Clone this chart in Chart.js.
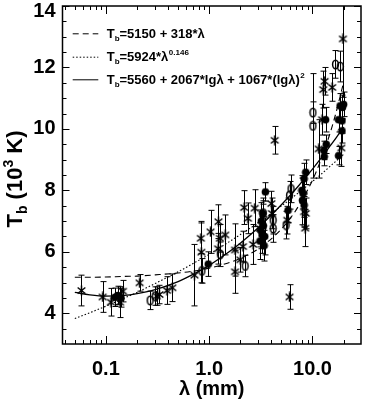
<!DOCTYPE html>
<html><head><meta charset="utf-8">
<script src="https://cdn.jsdelivr.net/npm/chart.js@4"></script>
<style>html,body{margin:0;padding:0;background:#fff;}#wrap{width:367px;height:400px;position:relative;}</style>
</head><body><div id="wrap"><canvas id="c"></canvas></div>
<script>
// ---- data ----
const xTickValues = [0.1, 1, 10];
const xTickLabels = ['0.1', '1.0', '10.0'];
const xMinorTicks = [0.04,0.05,0.06,0.07,0.08,0.09,0.2,0.3,0.4,0.5,0.6,0.7,0.8,0.9,2,3,4,5,6,7,8,9,20];
const yTickValues = [4, 6, 8, 10, 12, 14];
const yTickLabels = ['4', '6', '8', '10', '12', '14'];
const yMinorTicks = [3.5,4.5,5,5.5,6.5,7,7.5,8.5,9,9.5,10.5,11,11.5,12.5,13,13.5];

const starLambda = [0.058,0.093,0.112,0.137,0.146,0.212,0.31,0.33,0.39,0.44,0.72,0.83,0.84,1.03,1.23,1.22,1.27,1.43,1.78,1.78,2.0,2.12,2.18,2.37,2.76,2.66,3.1,4.0,4.05,4.31,5.7,6.0,8.3,8.5,8.6,11.5,12.4,12.7,13.1,15.5,19.0,19.7];
const starT      = [4.74,4.53,4.36,4.36,4.72,4.99,4.56,4.61,4.74,4.83,5.24,6.44,5.99,6.65,6.98,6.10,6.44,6.55,6.06,5.35,5.74,6.17,7.44,7.09,7.42,6.24,6.76,7.57,7.25,9.63,7.03,4.53,7.30,6.77,7.25,9.35,10.3,11.28,11.55,11.35,9.38,12.93];
const starErr    = [0.5,0.5,0.45,0.5,0.35,0.27,0.3,0.3,0.45,0.45,1.0,0.5,1.0,0.7,0.55,0.5,0.45,0.65,0.85,0.7,0.4,0.5,0.55,0.5,0.6,0.65,0.6,0.4,0.5,0.45,0.45,0.4,0.5,0.6,0.5,0.95,0.5,0.6,0.45,0.45,0.6,1.9];

const openLambda = [0.268,0.30,0.85,1.28,2.23,3.34,4.16,4.16,5.55,6.0,6.2,10.1,10.1,16.7,18.6];
const openT      = [4.42,4.56,5.38,5.92,5.54,7.26,7.03,6.76,6.87,7.84,8.05,10.53,10.1,12.1,12.03];
const openErr    = [0.3,0.3,0.4,0.4,0.35,0.4,0.45,0.45,0.45,0.45,0.45,0.35,1.7,0.45,0.5];

const filledLambda = [0.122,0.13,0.14,0.98,3.1,3.15,3.2,3.25,3.3,3.35,3.4,3.45,3.5,5.8,7.9,8.0,8.1,8.3,8.6,8.3,12.9,13.0,13.6,13.4,17.9,19.3,17.9,19.3,18.5,20.0,19.5];
const filledT      = [4.52,4.58,4.50,5.6,6.35,6.7,7.0,6.55,7.25,6.85,6.2,6.5,7.95,7.35,8.0,7.68,7.9,8.38,8.59,7.52,9.3,9.1,9.5,10.3,9.13,9.94,10.3,10.26,10.75,10.8,10.7];
const filledErr    = [0.3,0.3,0.3,0.4,0.6,0.6,0.6,0.6,0.5,0.7,0.5,0.6,0.3,0.4,0.4,0.8,0.5,0.5,0.4,0.4,0.3,0.3,0.3,0.4,0.3,0.4,0.4,0.4,0.4,0.4,0.4];

const fitLambda  = [0.05,0.07,0.1,0.15,0.2,0.3,0.5,0.7,1,1.5,2,3,5,7,10,12,15,17,20];
const linearFitT = [5.17,5.17,5.18,5.20,5.21,5.25,5.31,5.37,5.47,5.63,5.79,6.10,6.74,7.38,8.33,8.97,9.92,10.56,11.51];
const powerFitT  = [3.83,4.02,4.23,4.49,4.68,4.97,5.35,5.62,5.92,6.29,6.56,6.95,7.49,7.87,8.29,8.51,8.80,8.96,9.17];
const quadFitT   = [4.68,4.60,4.56,4.58,4.64,4.77,5.03,5.27,5.56,5.96,6.28,6.79,7.53,8.07,8.69,9.03,9.47,9.72,10.06];

const legendItems = [
  {dash:[6,4], main:'=5150 + 318*λ', sup:''},
  {dash:[1.5,2], main:'=5924*λ', sup:'0.146'},
  {dash:[], main:'=5560 + 2067*lgλ + 1067*(lgλ)', sup:'2'}
];

const FONT = "'Liberation Sans', Arial, sans-serif";

// ---- marker images ----
function makeStar(){
  const c=document.createElement('canvas'); c.width=c.height=11;
  const g=c.getContext('2d'); g.strokeStyle='#000'; g.lineWidth=1.5; g.beginPath();
  const r=4.9, cx=5.5, cy=5.5;
  for (const ang of [90, 38, -38]) { const t=ang*Math.PI/180;
    g.moveTo(cx-r*Math.cos(t), cy-r*Math.sin(t)); g.lineTo(cx+r*Math.cos(t), cy+r*Math.sin(t)); }
  g.stroke(); return c;
}
function makeOpen(){
  const c=document.createElement('canvas'); c.width=9; c.height=11;
  const g=c.getContext('2d'); g.strokeStyle='#000'; g.lineWidth=1.5;
  g.beginPath(); g.ellipse(4.5,5.5,2.9,4.3,0,0,Math.PI*2); g.stroke(); return c;
}
function makeFilled(){
  const c=document.createElement('canvas'); c.width=c.height=9;
  const g=c.getContext('2d'); g.fillStyle='#000';
  g.beginPath(); g.arc(4.5,4.5,3.8,0,Math.PI*2); g.fill(); return c;
}
const starImg=makeStar(), openImg=makeOpen(), filledImg=makeFilled();

const toXY=(xs,ys)=>xs.map((v,i)=>({x:v,y:ys[i]}));

// ---- plugins ----
const errorBars = {
  id:'errorBars',
  beforeDatasetsDraw(chart){
    const {ctx, chartArea:a, scales:{x,y}} = chart;
    ctx.save(); ctx.beginPath(); ctx.rect(a.left,a.top,a.right-a.left,a.bottom-a.top); ctx.clip();
    ctx.strokeStyle='#000'; ctx.lineWidth=1; ctx.beginPath();
    const sets=[[starLambda,starT,starErr],[openLambda,openT,openErr],[filledLambda,filledT,filledErr]];
    for (const [L,T,E] of sets){
      for (let i=0;i<L.length;i++){
        const px=Math.round(x.getPixelForValue(L[i]))+0.5;
        const y1=y.getPixelForValue(T[i]+E[i]), y2=y.getPixelForValue(T[i]-E[i]);
        ctx.moveTo(px,y1); ctx.lineTo(px,y2);
        ctx.moveTo(px-3,y1); ctx.lineTo(px+3,y1);
        ctx.moveTo(px-3,y2); ctx.lineTo(px+3,y2);
      }
    }
    ctx.stroke(); ctx.restore();
  }
};

const frame = {
  id:'frame',
  afterDraw(chart){
    const {ctx, chartArea:a, scales:{x,y}} = chart;
    ctx.save();
    ctx.strokeStyle='#000'; ctx.lineWidth=1.5;
    ctx.strokeRect(a.left,a.top,a.right-a.left,a.bottom-a.top);
    ctx.lineWidth=1; ctx.beginPath();
    const tx=(v,len)=>{const p=Math.round(x.getPixelForValue(v))+0.5;
      ctx.moveTo(p,a.bottom); ctx.lineTo(p,a.bottom-len); ctx.moveTo(p,a.top); ctx.lineTo(p,a.top+len);};
    const ty=(v,len)=>{const p=Math.round(y.getPixelForValue(v))+0.5;
      ctx.moveTo(a.left,p); ctx.lineTo(a.left+len,p); ctx.moveTo(a.right,p); ctx.lineTo(a.right-len,p);};
    xTickValues.forEach(v=>tx(v,8)); xMinorTicks.forEach(v=>tx(v,4));
    yTickValues.forEach(v=>ty(v,7)); yMinorTicks.forEach(v=>ty(v,4));
    ctx.stroke();

    // legend
    const rows=[33.3,56.7,79.3];
    legendItems.forEach((it,i)=>{
      const yy=rows[i];
      ctx.beginPath(); ctx.setLineDash(it.dash); ctx.lineWidth=1;
      ctx.moveTo(72.7,yy+0.5); ctx.lineTo(98.3,yy+0.5); ctx.stroke(); ctx.setLineDash([]);
      ctx.fillStyle='#000'; ctx.textBaseline='alphabetic'; ctx.textAlign='left';
      let cx=106.7; const base=yy+4.7;
      ctx.font='bold 13px '+FONT; ctx.fillText('T',cx,base); cx+=ctx.measureText('T').width;
      ctx.font='bold 8px '+FONT; ctx.fillText('b',cx,base+2.5); cx+=ctx.measureText('b').width;
      ctx.font='bold 13px '+FONT; ctx.fillText(it.main,cx,base); cx+=ctx.measureText(it.main).width;
      if (it.sup){ ctx.font='bold 8px '+FONT; ctx.fillText(it.sup,cx+0.5,base-6); }
    });

    // y-axis title
    ctx.save();
    ctx.translate(22,179); ctx.rotate(-Math.PI/2);
    const parts=[['T',22,0],['b',14,5],[' (10',22,0],['3',14,-9],[' K)',22,0]];
    let w=0; parts.forEach(p=>{ctx.font='bold '+p[1]+'px '+FONT; w+=ctx.measureText(p[0]).width;});
    let cx=-w/2; ctx.textBaseline='alphabetic'; ctx.fillStyle='#000';
    parts.forEach(p=>{ctx.font='bold '+p[1]+'px '+FONT; ctx.fillText(p[0],cx,p[2]); cx+=ctx.measureText(p[0]).width;});
    ctx.restore();
    ctx.restore();
  }
};

const tickFont={family:FONT, weight:'bold', size:20};

new Chart(document.getElementById('c'), {
  data:{
    datasets:[
      {type:'scatter', label:'asterisk', data:toXY(starLambda,starT), pointStyle:starImg, pointRadius:5, order:1},
      {type:'scatter', label:'open', data:toXY(openLambda,openT), pointStyle:openImg, pointRadius:5, order:1},
      {type:'scatter', label:'filled', data:toXY(filledLambda,filledT), pointStyle:filledImg, pointRadius:5, order:1},
      {type:'line', label:'Tb=5150+318λ', data:toXY(fitLambda,linearFitT), borderColor:'#000', borderWidth:1.1, borderDash:[6,4], pointRadius:0, fill:false, cubicInterpolationMode:'monotone', order:2},
      {type:'line', label:'Tb=5924λ^0.146', data:toXY(fitLambda,powerFitT), borderColor:'#000', borderWidth:1.1, borderDash:[1.5,2], pointRadius:0, fill:false, cubicInterpolationMode:'monotone', order:2},
      {type:'line', label:'Tb=5560+2067lgλ+1067(lgλ)^2', data:toXY(fitLambda,quadFitT), borderColor:'#000', borderWidth:1.3, pointRadius:0, fill:false, cubicInterpolationMode:'monotone', order:2}
    ]
  },
  options:{
    responsive:true, maintainAspectRatio:false, animation:false, events:[],
    layout:{padding:{top:4,right:1.5,left:0,bottom:0}},
    plugins:{legend:{display:false}, tooltip:{enabled:false}},
    scales:{
      x:{type:'logarithmic', position:'bottom', min:0.038, max:29.5,
        grid:{display:false, drawTicks:false}, border:{display:false},
        afterBuildTicks:s=>{s.ticks=xTickValues.map(v=>({value:v}));},
        afterFit:s=>{s.height=56; s.paddingLeft=0; s.paddingRight=0;},
        ticks:{font:tickFont, color:'#000', padding:13, autoSkip:false, maxRotation:0,
          callback:(v)=>{const i=xTickValues.indexOf(v); return i>=0?xTickLabels[i]:'';}},
        title:{display:true, text:'λ (mm)', color:'#000', font:{family:FONT, weight:'bold', size:20}, padding:{top:0,bottom:-1}}
      },
      y:{type:'linear', position:'left', min:3, max:14,
        grid:{display:false, drawTicks:false}, border:{display:false},
        afterBuildTicks:s=>{s.ticks=yTickValues.map(v=>({value:v}));},
        afterFit:s=>{s.width=62.5; s.paddingTop=0; s.paddingBottom=0;},
        ticks:{font:{family:FONT, weight:'bold', size:20, lineHeight:0.5}, color:'#000', padding:7, autoSkip:false,
          callback:(v)=>{const i=yTickValues.indexOf(v); if(i<0) return ''; return v===14?['',yTickLabels[i]]:yTickLabels[i];}}
      }
    }
  },
  plugins:[errorBars, frame]
});
</script></body></html>
